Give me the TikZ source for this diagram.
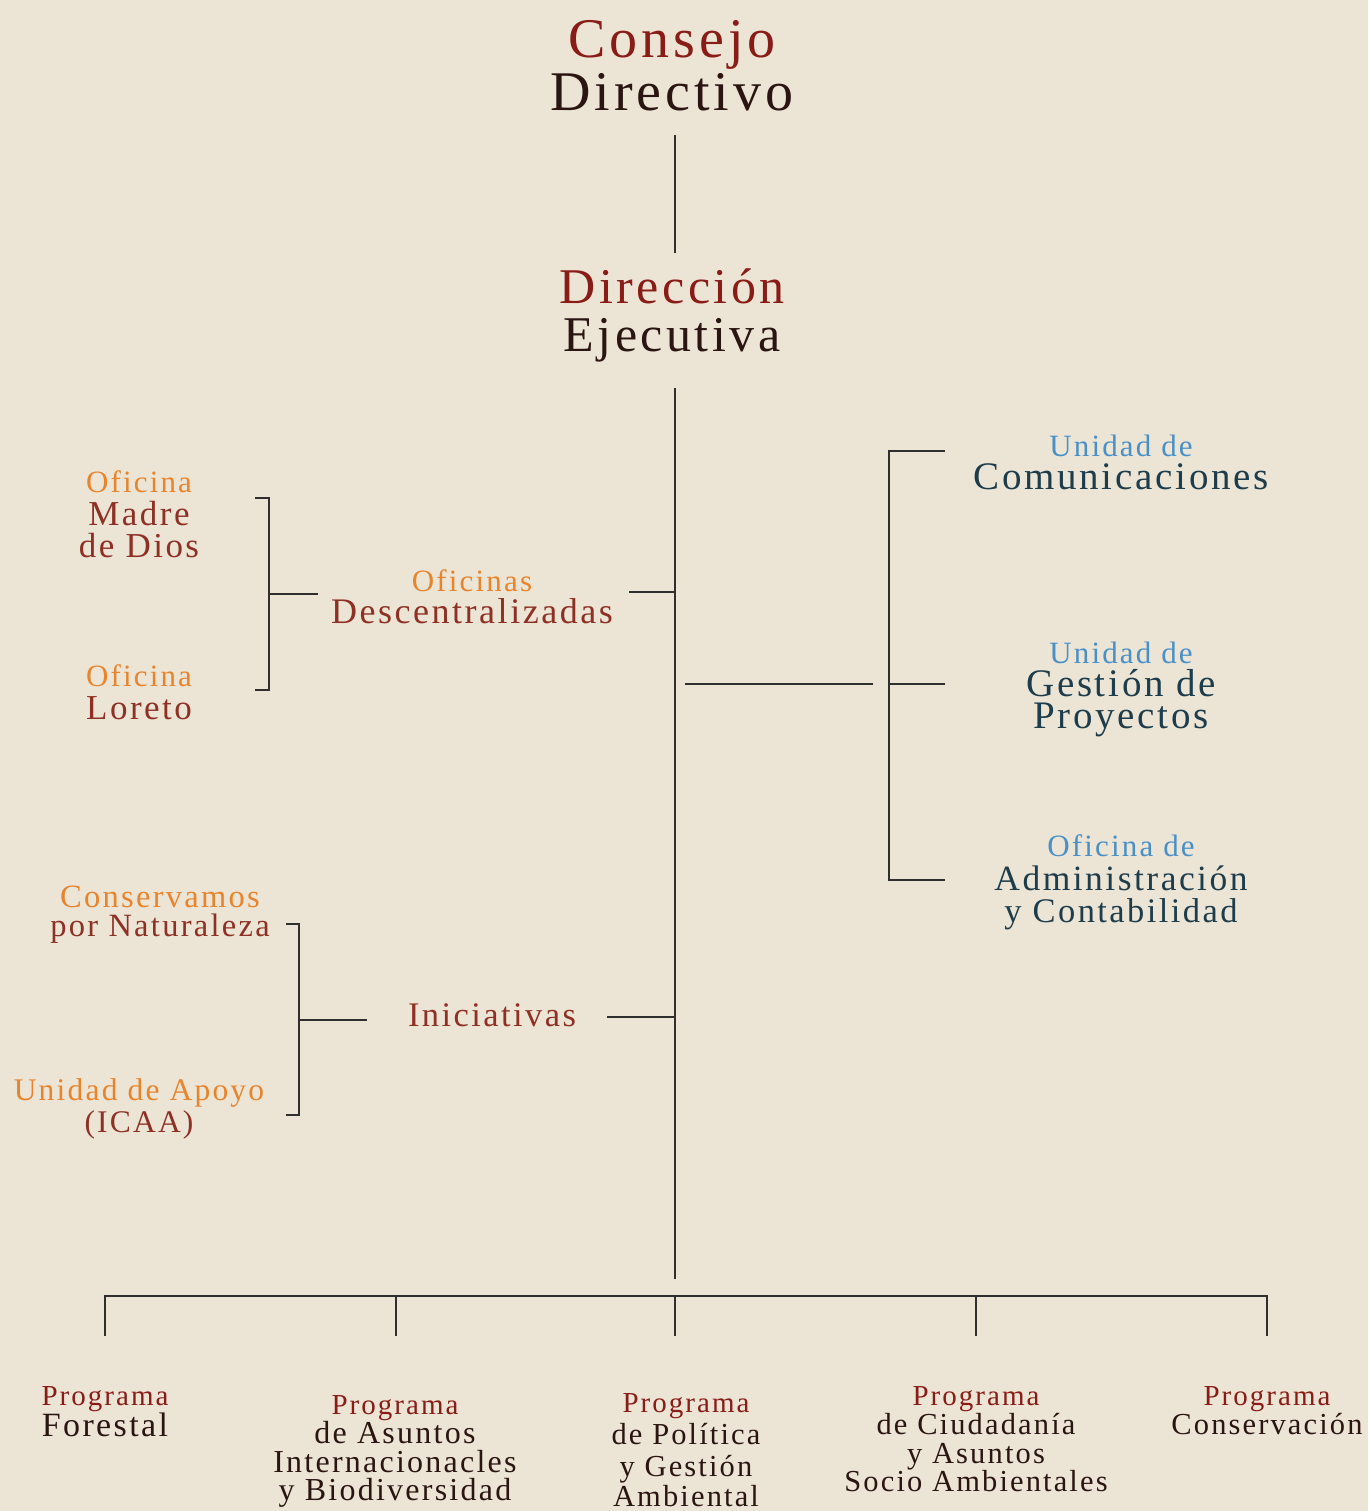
\documentclass[tikz,border=0pt]{standalone}
\usepackage{fontspec}
\setmainfont{Liberation Serif}[LetterSpace=7]
\definecolor{bg}{HTML}{ECE5D6}
\definecolor{redA}{HTML}{8A1C17}
\definecolor{darkA}{HTML}{2B1512}
\definecolor{orangeA}{HTML}{E8842C}
\definecolor{brick}{HTML}{8E3124}
\definecolor{blueA}{HTML}{4A90C8}
\definecolor{tealA}{HTML}{1E3D4C}
\definecolor{lineA}{HTML}{2F2F2F}
\newcommand\fsz[1]{\fontsize{#1}{#1}\selectfont}
\tikzset{
  lbl/.style={inner sep=0pt, outer sep=0pt, anchor=base},
  conn/.style={draw=lineA, line width=2pt, line cap=butt, line join=miter},
}
\begin{document}
\begin{tikzpicture}[x=1pt,y=-1pt]
\fill[bg] (0,0) rectangle (1368,1511);
\useasboundingbox (0,0) rectangle (1368,1511);

% top
\node[lbl, text=redA, font=\fsz{56}] (cons1) at (672,58) {Consejo};
\node[lbl, text=darkA, font=\fsz{56}] (cons2) at (672,111) {Directivo};
\node[lbl, text=redA, font=\fsz{50}] (dir1) at (672,304) {Dirección};
\node[lbl, text=darkA, font=\fsz{50}] (dir2) at (672,351) {Ejecutiva};

% left top group
\node[lbl, text=orangeA, font=\fsz{31}] (md1) at (139,492) {Oficina};
\node[lbl, text=brick, font=\fsz{35}] (md2) at (139,525) {Madre};
\node[lbl, text=brick, font=\fsz{35}] (md3) at (139,557) {de Dios};
\node[lbl, text=orangeA, font=\fsz{31}] (lo1) at (139,686) {Oficina};
\node[lbl, text=brick, font=\fsz{35}] (lo2) at (139,719) {Loreto};
\node[lbl, text=orangeA, font=\fsz{31}] (od1) at (472,591) {Oficinas};
\node[lbl, text=brick, font=\fsz{36}] (od2) at (472,623) {Descentralizadas};

% right group
\node[lbl, text=blueA, font=\fsz{31}] (uc1) at (1121,456) {Unidad de};
\node[lbl, text=tealA, font=\fsz{39}] (uc2) at (1121,489) {Comunicaciones};
\node[lbl, text=blueA, font=\fsz{31}] (ug1) at (1121,663) {Unidad de};
\node[lbl, text=tealA, font=\fsz{39}] (ug2) at (1121,696) {Gestión de};
\node[lbl, text=tealA, font=\fsz{39}] (ug3) at (1121,728) {Proyectos};
\node[lbl, text=blueA, font=\fsz{31}] (oa1) at (1121,856) {Oficina de};
\node[lbl, text=tealA, font=\fsz{35.5}] (oa2) at (1121,890) {Administración};
\node[lbl, text=tealA, font=\fsz{34.5}] (oa3) at (1121,922) {y Contabilidad};

% left bottom group
\node[lbl, text=orangeA, font=\fsz{32.5}] (cn1) at (160,907) {Conservamos};
\node[lbl, text=brick, font=\fsz{32.5}] (cn2) at (160,936) {por Naturaleza};
\node[lbl, text=orangeA, font=\fsz{31.5}] (ua1) at (139,1100) {Unidad de Apoyo};
\node[lbl, text=brick, font=\fsz{31.5}] (ua2) at (139,1132) {(ICAA)};
\node[lbl, text=brick, font=\fsz{34.5}] (ini) at (492,1026) {Iniciativas};

% bottom programs
\node[lbl, text=redA, font=\fsz{29}] (pf1) at (105,1405) {Programa};
\node[lbl, text=darkA, font=\fsz{34}] (pf2) at (105,1436) {Forestal};

\node[lbl, text=redA, font=\fsz{29}] (pa1) at (395,1414) {Programa};
\node[lbl, text=darkA, font=\fsz{32}] (pa2) at (395,1443) {de Asuntos};
\node[lbl, text=darkA, font=\fsz{32}] (pa3) at (395,1472) {Internacionacles};
\node[lbl, text=darkA, font=\fsz{32}] (pa4) at (395,1500) {y Biodiversidad};

\node[lbl, text=redA, font=\fsz{29}] (pp1) at (686,1412) {Programa};
\node[lbl, text=darkA, font=\fsz{30.5}] (pp2) at (686,1444) {de Política};
\node[lbl, text=darkA, font=\fsz{30.5}] (pp3) at (686,1476) {y Gestión};
\node[lbl, text=darkA, font=\fsz{30.5}] (pp4) at (686,1506) {Ambiental};

\node[lbl, text=redA, font=\fsz{29}] (pc1) at (976,1405) {Programa};
\node[lbl, text=darkA, font=\fsz{30.5}] (pc2) at (976,1434) {de Ciudadanía};
\node[lbl, text=darkA, font=\fsz{30.5}] (pc3) at (976,1463) {y Asuntos};
\node[lbl, text=darkA, font=\fsz{30.5}] (pc4) at (976,1491) {Socio Ambientales};

\node[lbl, text=redA, font=\fsz{29}] (pv1) at (1267,1405) {Programa};
\node[lbl, text=darkA, font=\fsz{30.5}] (pv2) at (1267,1434) {Conservación};

% connector coordinates
\coordinate (t1) at (675,135);
\coordinate (t2) at (675,253);
\coordinate (m1) at (675,388);
\coordinate (m2) at (675,1279);
\coordinate (odA) at (629,592);
\coordinate (odB) at (675,592);
\coordinate (b1a) at (255,498);
\coordinate (b1b) at (269,498);
\coordinate (b1c) at (269,690);
\coordinate (b1d) at (255,690);
\coordinate (b1m) at (269,594);
\coordinate (b1e) at (318,594);
\coordinate (rA) at (685,684);
\coordinate (rB) at (873,684);
\coordinate (rb1) at (945,451);
\coordinate (rb2) at (889,451);
\coordinate (rb3) at (889,880);
\coordinate (rb4) at (945,880);
\coordinate (rbm) at (889,684);
\coordinate (rbe) at (945,684);
\coordinate (iA) at (607,1017);
\coordinate (iB) at (675,1017);
\coordinate (b2a) at (286,924);
\coordinate (b2b) at (299,924);
\coordinate (b2c) at (299,1115);
\coordinate (b2d) at (286,1115);
\coordinate (b2m) at (299,1020);
\coordinate (b2e) at (367,1020);
\coordinate (h1) at (105,1336);
\coordinate (h2) at (105,1296);
\coordinate (h3) at (1267,1296);
\coordinate (h4) at (1267,1336);
\coordinate (d2a) at (396,1296);
\coordinate (d2b) at (396,1336);
\coordinate (d3a) at (675,1296);
\coordinate (d3b) at (675,1336);
\coordinate (d4a) at (976,1296);
\coordinate (d4b) at (976,1336);

\path[conn] (t1) -- (t2);
\path[conn] (m1) -- (m2);
\path[conn] (odA) -- (odB);
\path[conn] (b1a) -- (b1b) -- (b1c) -- (b1d);
\path[conn] (b1m) -- (b1e);
\path[conn] (rA) -- (rB);
\path[conn] (rb1) -- (rb2) -- (rb3) -- (rb4);
\path[conn] (rbm) -- (rbe);
\path[conn] (iA) -- (iB);
\path[conn] (b2a) -- (b2b) -- (b2c) -- (b2d);
\path[conn] (b2m) -- (b2e);
\path[conn] (h1) -- (h2) -- (h3) -- (h4);
\path[conn] (d2a) -- (d2b);
\path[conn] (d3a) -- (d3b);
\path[conn] (d4a) -- (d4b);
\end{tikzpicture}
\end{document}
